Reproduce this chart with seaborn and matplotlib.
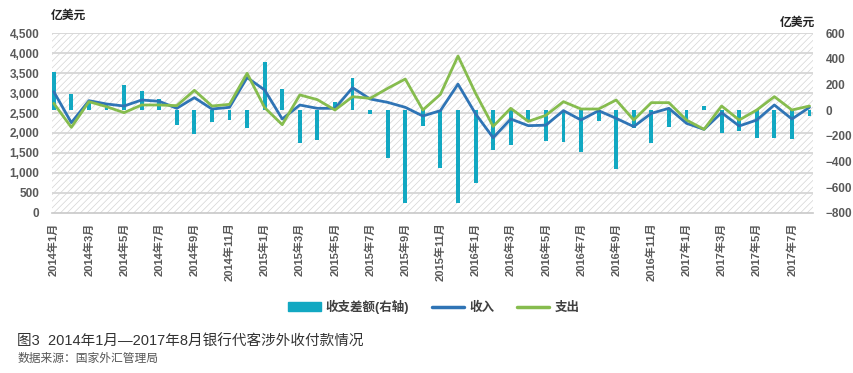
import numpy as np
import pandas as pd
import matplotlib
matplotlib.use("Agg")
import matplotlib.pyplot as plt
import seaborn as sns
from matplotlib.patches import Rectangle, Patch
from matplotlib.lines import Line2D
from matplotlib.ticker import FuncFormatter

# 月份 2014年1月 - 2017年8月
months = [f"{y}年{m}月" for y in range(2014, 2018) for m in range(1, 13)][:44]

# 收入 (左轴, 亿美元)
income = [3036, 2258, 2810, 2727, 2676, 2827, 2794, 2618, 2886, 2601,
          2643, 3390, 3078, 2350, 2701, 2618, 2618, 3135, 2852, 2768,
          2643, 2425, 2560, 3225, 2480, 1880, 2350, 2183, 2195, 2560,
          2325, 2559, 2367, 2160, 2492, 2618, 2242, 2091, 2509, 2175,
          2325, 2702, 2350, 2643]

# 支出 (左轴, 亿美元)
expense = [2743, 2141, 2785, 2660, 2509, 2702, 2702, 2685, 3070, 2676,
           2718, 3496, 2635, 2208, 2955, 2835, 2576, 2910, 2868, 3120,
           3353, 2576, 2969, 3930, 2995, 2165, 2618, 2290, 2442, 2785,
           2601, 2601, 2827, 2325, 2760, 2760, 2325, 2091, 2676, 2325,
           2576, 2911, 2576, 2676]

# 收支差额 (右轴, 亿美元)
balance = [295, 130, 65, 55, 195, 150, 90, -118, -183, -95,
           -76, -141, 379, 165, -258, -233, 67, 254, -30, -370,
           -722, -121, -449, -727, -566, -310, -271, -76, -238, -245,
           -329, -84, -459, -141, -253, -134, -89, 33, -180, -160,
           -220, -220, -228, -43]

left_ticks = list(range(0, 4501, 500))
right_ticks = list(range(-800, 601, 200))

df = pd.DataFrame({"月份": months, "收入": income, "支出": expense,
                   "收支差额": balance, "pos": np.arange(len(months))})

bar_color = "#12A8C2"
blue = "#2F74B5"
green = "#86BC4E"
grey = "#595959"

sns.set_style("white")
plt.rcParams["font.family"] = ["Liberation Sans", "Noto Sans CJK SC"]
plt.rcParams["hatch.linewidth"] = 0.5

fig = plt.figure(figsize=(8.54, 3.73), dpi=100)
ax = fig.add_axes([0.0609, 0.4298, 0.8911, 0.4809])
ax2 = ax.twinx()
ax.set_zorder(ax2.get_zorder() + 1)
ax.patch.set_visible(False)

# 斜线背景 + 网格线 (放在右轴图层, 在柱子下面)
ax2.add_patch(Rectangle((0, 0), 1, 1, transform=ax2.transAxes, facecolor="white",
                        edgecolor="#d4d4d4", hatch="/////", lw=0, zorder=0))
for v in left_ticks[1:]:
    r = right_ticks[0] + v * (right_ticks[-1] - right_ticks[0]) / left_ticks[-1]
    ax2.axhline(r, color="#d6d6d6", lw=1.3, zorder=0.5)

sns.barplot(data=df, x="月份", y="收支差额", color=bar_color, width=0.22,
            saturation=1, linewidth=0, edgecolor=bar_color, ax=ax2, zorder=2)
sns.lineplot(data=df, x="pos", y="收入", color=blue, lw=2, ax=ax)
sns.lineplot(data=df, x="pos", y="支出", color=green, lw=2, ax=ax)

ax.set_ylim(0, 4500)
ax2.set_ylim(-800, 600)
ax.set_xlim(-0.1, 43.2)
ax.set_yticks(left_ticks)
ax2.set_yticks(right_ticks)
ax.yaxis.set_major_formatter(FuncFormatter(lambda v, p: f"{int(v):,}"))
ax.set_xticks(range(0, 44, 2))
ax.set_xticklabels(months[::2], rotation=90)

for a in (ax, ax2):
    a.set_xlabel("")
    a.set_ylabel("")
    for s in a.spines.values():
        s.set_visible(False)
ax.spines["bottom"].set_visible(True)
ax.spines["bottom"].set_color("#c8c8c8")
ax.spines["bottom"].set_linewidth(1.2)

ax.tick_params(axis="y", length=0, pad=9, labelsize=8.5, labelcolor=grey)
ax2.tick_params(axis="y", length=0, pad=9, labelsize=8.5, labelcolor=grey)
ax.tick_params(axis="x", length=4, width=1, color="#c8c8c8", pad=3,
               labelsize=8, labelcolor=grey)
for lbl in ax.get_yticklabels() + ax2.get_yticklabels() + ax.get_xticklabels():
    lbl.set_fontweight("bold")

fig.text(0.059, 0.957, "亿美元", fontsize=8.5, fontweight="bold", color="#222222",
         ha="left", va="center")
fig.text(0.955, 0.940, "亿美元", fontsize=8.5, fontweight="bold", color="#222222",
         ha="right", va="center")

handles = [Patch(color=bar_color),
           Line2D([], [], color=blue, lw=2.5),
           Line2D([], [], color=green, lw=2.5)]
leg = fig.legend(handles, ["收支差额(右轴)", "收入", "支出"], loc="center",
                 bbox_to_anchor=(0.508, 0.177), ncol=3, frameon=False, fontsize=9,
                 handlelength=2.6, handletextpad=0.4, columnspacing=1.8)
for t in leg.get_texts():
    t.set_color("#404040")
    t.set_fontweight("bold")

fig.text(0.02, 0.083, "图3  2014年1月—2017年8月银行代客涉外收付款情况",
         fontsize=10.5, color="#333333", ha="left", va="center")
fig.text(0.02, 0.037, "数据来源：国家外汇管理局", fontsize=8.5, color="#555555",
         ha="left", va="center")

fig.savefig("out.png", dpi=100)
